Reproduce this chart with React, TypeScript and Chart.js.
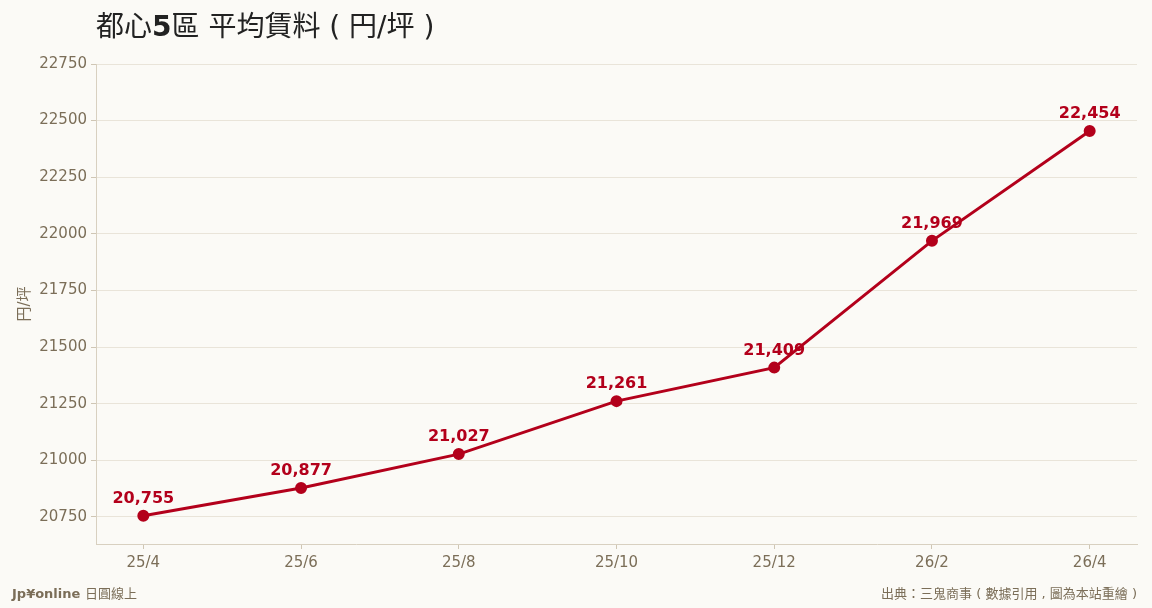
import { useEffect, useRef } from "react"
import { Chart, registerables } from "chart.js"

Chart.register(...registerables)

const months = ["25/4", "25/6", "25/8", "25/10", "25/12", "26/2", "26/4"]
const rents = [20755, 20877, 21027, 21261, 21409, 21969, 22454]
const yTicks = [20750, 21000, 21250, 21500, 21750, 22000, 22250, 22500, 22750]

const FONT = '"DejaVu Sans", "Noto Sans CJK TC", sans-serif'
const BG = "#fbfaf6"
const TEXT = "#7b6e58"
const RED = "#b3001b"

const textPlugin = {
  id: "texts",
  beforeDraw(chart: Chart) {
    const { ctx, width, height } = chart
    ctx.save()
    ctx.fillStyle = BG
    ctx.fillRect(0, 0, width, height)
    ctx.restore()
  },
  beforeDatasetsDraw(chart: Chart) {
    // value labels sit under the line
    const { ctx } = chart
    const meta = chart.getDatasetMeta(0)
    ctx.save()
    ctx.font = `bold 16px ${FONT}`
    ctx.fillStyle = RED
    ctx.textAlign = "center"
    ctx.textBaseline = "middle"
    meta.data.forEach((pt, i) => {
      ctx.fillText(rents[i].toLocaleString("en-US"), pt.x, pt.y - 17)
    })
    ctx.restore()
  },
  afterDraw(chart: Chart) {
    const { ctx, chartArea } = chart
    ctx.save()
    // title
    ctx.textBaseline = "alphabetic"
    ctx.textAlign = "left"
    ctx.fillStyle = "#222222"
    let x = chartArea.left
    const ty = 36
    const parts: [string, string][] = [
      ["都心", "normal"],
      ["5", "bold"],
      ["區 平均賃料 ( 円/坪 )", "normal"],
    ]
    parts.forEach(([t, w]) => {
      ctx.font = `${w} 28px ${FONT}`
      ctx.fillText(t, x, ty)
      x += ctx.measureText(t).width
    })
    // footer
    ctx.fillStyle = TEXT
    ctx.textBaseline = "middle"
    ctx.font = `bold 13px ${FONT}`
    ctx.fillText("Jp¥online", 12, 595)
    const w = ctx.measureText("Jp¥online ").width
    ctx.font = `normal 13px ${FONT}`
    ctx.fillText("日圓線上", 12 + w, 595)
    ctx.textAlign = "right"
    ctx.fillText("出典：三鬼商事 ( 數據引用 , 圖為本站重繪 )", chartArea.right, 595)
    ctx.restore()
  },
}

export default function App() {
  const chartRef = useRef<HTMLCanvasElement>(null)
  const chartInstance = useRef<Chart | null>(null)

  useEffect(() => {
    document.body.style.margin = "0"
    document.body.style.background = BG
    if (!chartRef.current) return
    if (chartInstance.current) chartInstance.current.destroy()
    const ctx = chartRef.current.getContext("2d")
    if (!ctx) return

    chartInstance.current = new Chart(ctx, {
      type: "line",
      data: {
        datasets: [
          {
            label: "平均賃料",
            data: rents.map((v, i) => ({ x: i, y: v })),
            borderColor: RED,
            backgroundColor: RED,
            borderWidth: 3,
            pointRadius: 4.5,
            pointHoverRadius: 4.5,
            tension: 0,
          },
        ],
      },
      options: {
        animation: false,
        responsive: false,
        layout: { padding: { top: 64, right: 15, left: 0, bottom: 0 } },
        plugins: {
          legend: { display: false },
          tooltip: { enabled: false },
          title: { display: false },
        },
        scales: {
          x: {
            type: "linear",
            min: -0.3,
            max: 6.3,
            afterBuildTicks: (scale: any) => {
              scale.ticks = months.map((_, i) => ({ value: i }))
            },
            afterFit: (scale: any) => {
              scale.height = 64
            },
            grid: {
              drawOnChartArea: false,
              tickLength: 5,
              tickColor: "#cfc6b4",
            },
            border: { color: "#d8d0c0", width: 1 },
            ticks: {
              color: TEXT,
              font: { family: FONT, size: 15 },
              padding: 5,
              maxRotation: 0,
              callback: (v: any) => months[Number(v)] ?? "",
            },
          },
          y: {
            min: 20630,
            max: 22750,
            afterBuildTicks: (scale: any) => {
              scale.ticks = yTicks.map((v) => ({ value: v }))
            },
            afterFit: (scale: any) => {
              scale.width = 96
            },
            grid: {
              color: "#e9e4d9",
              tickLength: 5,
              tickColor: "#cfc6b4",
            },
            border: { color: "#d8d0c0", width: 1 },
            title: {
              display: true,
              text: "円/坪",
              color: TEXT,
              font: { family: FONT, size: 15 },
              padding: { top: 16, bottom: 4 },
            },
            ticks: {
              color: TEXT,
              font: { family: FONT, size: 15 },
              padding: 4,
              callback: (v: any) => String(v),
            },
          },
        },
      },
      plugins: [textPlugin],
    })

    return () => {
      if (chartInstance.current) {
        chartInstance.current.destroy()
        chartInstance.current = null
      }
    }
  }, [])

  return (
    <div style={{ width: 1152, height: 608, background: BG }}>
      <canvas ref={chartRef} width={1152} height={608} />
    </div>
  )
}
